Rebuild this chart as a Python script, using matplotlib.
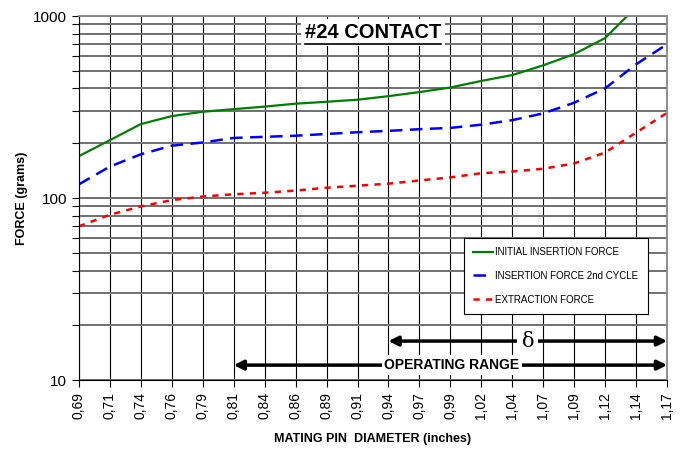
import matplotlib.pyplot as plt
import numpy as np
from matplotlib.lines import Line2D

plt.rcParams['font.family'] = ['Liberation Sans', 'DejaVu Sans']

diameters = ['0,69', '0,71', '0,74', '0,76', '0,79', '0,81', '0,84', '0,86', '0,89', '0,91',
             '0,94', '0,97', '0,99', '1,02', '1,04', '1,07', '1,09', '1,12', '1,14', '1,17']
initial_insertion = [170, 208, 255, 282, 298, 308, 318, 330, 338, 347,
                     363, 382, 405, 440, 474, 536, 618, 757, 1120, 1600]
insertion_2nd = [119, 149, 174, 194, 202, 214, 217, 220, 225, 230,
                 234, 239, 243, 253, 268, 292, 334, 401, 543, 700]
extraction = [70, 81, 90, 97.5, 102, 105, 107, 110, 114, 117,
              120, 125, 130, 137, 140, 145, 155, 178, 229, 294]

fig = plt.figure(figsize=(6.8, 4.51), dpi=100)
ax = fig.add_axes([0.116, 0.157, 0.865, 0.8075])

x = np.arange(len(diameters))
ax.plot(x, initial_insertion, color='#008000', lw=1.6, label='INITIAL INSERTION FORCE')
ax.plot(x, insertion_2nd, color='#0000ff', lw=1.8, ls=(0, (5, 3)), label='INSERTION FORCE 2nd CYCLE')
ax.plot(x, extraction, color='#ff0000', lw=1.8, ls=(0, (2.5, 2.5)), label='EXTRACTION FORCE')

ax.set_yscale('log')
ax.set_ylim(10, 1000)
ax.set_xlim(0, len(diameters) - 1)
ax.set_yticks([10, 100, 1000])
ax.set_yticklabels(['10', '100', '1000'], fontsize=11)
ax.set_yticks([v * d for d in (10, 100) for v in range(2, 10)], minor=True)
ax.yaxis.set_minor_formatter(plt.NullFormatter())
ax.set_xticks(x)
ax.set_xticklabels(diameters, rotation=90, fontsize=10)
ax.tick_params(axis='both', which='both', direction='out', length=5, width=0.8)

ax.grid(axis='y', which='both', color='#707070', lw=1.4)
ax.grid(axis='x', which='major', color='black', lw=0.8)
ax.set_axisbelow(True)
for s in ('top', 'right'):
    ax.spines[s].set_color('#888888')
    ax.spines[s].set_linewidth(1.3)
for s in ('left', 'bottom'):
    ax.spines[s].set_color('black')

ax.set_ylabel('FORCE (grams)', fontsize=9, fontweight='bold', labelpad=4)
ax.set_xlabel('MATING PIN  DIAMETER (inches)', fontsize=9, fontweight='bold', labelpad=10)

leg = ax.legend(loc='upper right', bbox_to_anchor=(0.975, 0.405), fontsize=7,
                fancybox=False, edgecolor='black', framealpha=1, handlelength=2.0,
                handletextpad=0.2, labelspacing=1.4, borderpad=1.0)
leg.get_frame().set_linewidth(0.8)

title = ax.text(9.5, 810, '#24 CONTACT', fontsize=14.5, fontweight='bold', ha='center', va='center',
                bbox=dict(facecolor='white', edgecolor='none', pad=3))

# operating range arrows
ax.annotate('', xy=(10, 16.4), xytext=(19, 16.4),
            arrowprops=dict(arrowstyle='<|-|>', color='black', lw=2.5, mutation_scale=14,
                            shrinkA=0, shrinkB=0))
ax.text(14.5, 16.4, 'δ', fontsize=15, family='DejaVu Serif', ha='center', va='center',
        bbox=dict(facecolor='white', edgecolor='none', pad=3))
ax.annotate('', xy=(5, 12.1), xytext=(19, 12.1),
            arrowprops=dict(arrowstyle='<|-|>', color='black', lw=2.5, mutation_scale=14,
                            shrinkA=0, shrinkB=0))
ax.text(12.05, 12.1, 'OPERATING RANGE', fontsize=10, fontweight='bold', ha='center', va='center',
        bbox=dict(facecolor='white', edgecolor='none', pad=2))

# underline the title
fig.canvas.draw()
bb = title.get_window_extent().transformed(fig.transFigure.inverted())
fig.add_artist(Line2D([bb.x0, bb.x1], [bb.y0 - 0.004, bb.y0 - 0.004], color='black', lw=1.2,
                      transform=fig.transFigure))

fig.savefig('out.png', dpi=100)
